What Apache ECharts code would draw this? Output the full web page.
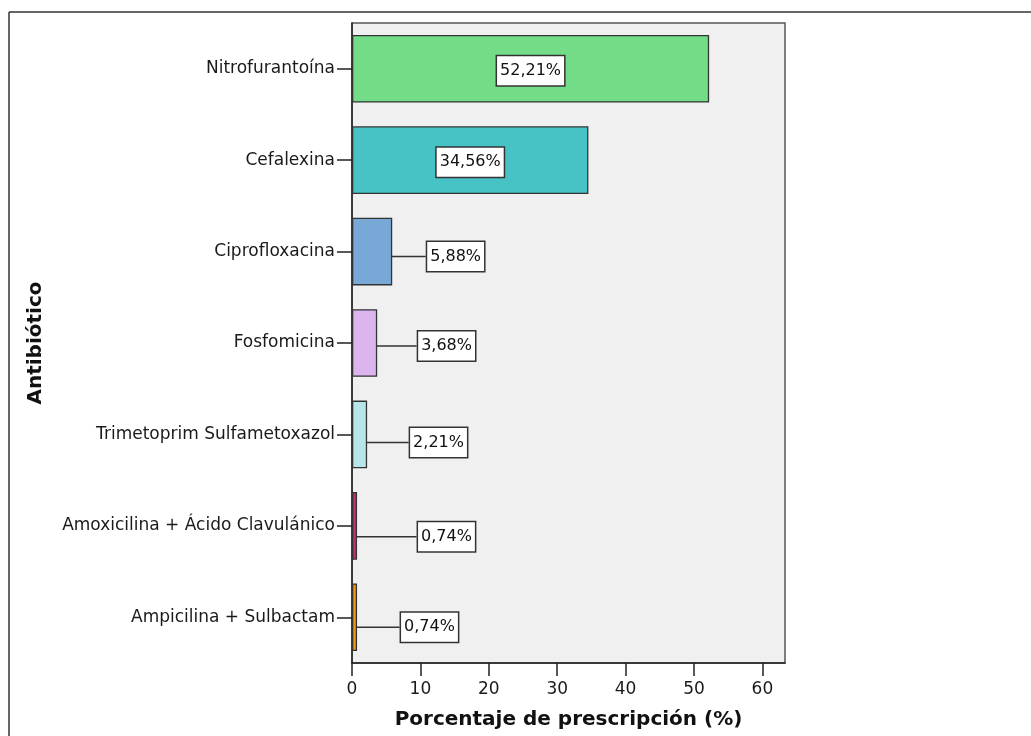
<!DOCTYPE html>
<html>
<head>
<meta charset="utf-8">
<title>Antibiótico</title>
<script src="https://cdn.jsdelivr.net/npm/echarts@6/dist/echarts.min.js"></script>
<style>
  html, body { margin: 0; padding: 0; background: #ffffff; }
  #chart { width: 1031px; height: 736px; }
</style>
</head>
<body>
<div id="chart"></div>
<script>
// Antibiotics, top to bottom, and their share of prescriptions (%)
const antibioticos = [
  'Nitrofurantoína',
  'Cefalexina',
  'Ciprofloxacina',
  'Fosfomicina',
  'Trimetoprim Sulfametoxazol',
  'Amoxicilina + Ácido Clavulánico',
  'Ampicilina + Sulbactam'
];
const porcentajes = [52.21, 34.56, 5.88, 3.68, 2.21, 0.74, 0.74];
const xTicks = [0, 10, 20, 30, 40, 50, 60];

// Bar fill per antibiotic
const barColors = ['#72dc86', '#47c3c6', '#78a8d6', '#dcb5ef', '#b7e6e8', '#c0306c', '#f3950e'];
// Labels of wide bars sit inside; the rest are pulled to the right with a leader line
const insideLabel = [true, true, false, false, false, false, false];
const labelShift = [[0, 2], [0, 2], [35, 5], [41, 3], [43, 8], [61, 11], [44, 10]];

const FONT = 'DejaVu Sans';
const fmt = v => v.toFixed(2).replace('.', ',') + '%';

const chart = echarts.init(document.getElementById('chart'), null, { renderer: 'canvas' });

chart.setOption({
  backgroundColor: '#ffffff',
  animation: false,
  graphic: [
    { type: 'line', shape: { x1: 9, y1: 12, x2: 1031, y2: 12 }, style: { stroke: '#333', lineWidth: 1.5 } },
    { type: 'line', shape: { x1: 9, y1: 12, x2: 9, y2: 736 }, style: { stroke: '#333', lineWidth: 1.5 } }
  ],
  grid: {
    left: 352, right: 246, top: 23, bottom: 73,
    show: true, backgroundColor: '#f0f0f0', borderColor: '#555', borderWidth: 1.5
  },
  xAxis: {
    type: 'value',
    min: 0, max: 63.3, interval: 10,
    name: 'Porcentaje de prescripción (%)',
    nameLocation: 'middle', nameGap: 47,
    nameTextStyle: { fontFamily: FONT, fontWeight: 'bold', fontSize: 20, color: '#111' },
    axisLine: { show: true, lineStyle: { color: '#222', width: 1.5 } },
    axisTick: { show: true, length: 13, customValues: xTicks, lineStyle: { color: '#222', width: 1.5 } },
    axisLabel: { customValues: xTicks, margin: 18, fontFamily: FONT, fontSize: 17, color: '#1a1a1a' },
    splitLine: { show: false }
  },
  yAxis: {
    type: 'category',
    inverse: true,
    data: antibioticos,
    name: 'Antibiótico',
    nameLocation: 'middle', nameGap: 306, nameRotate: 90,
    nameTextStyle: { fontFamily: FONT, fontWeight: 'bold', fontSize: 20, color: '#111' },
    axisLine: { show: true, lineStyle: { color: '#222', width: 1.5 } },
    axisTick: { show: true, length: 15, alignWithLabel: true, lineStyle: { color: '#222', width: 1.5 } },
    axisLabel: { margin: 17, fontFamily: FONT, fontSize: 17, color: '#1a1a1a', padding: [3, 0, 0, 0] },
    splitLine: { show: false }
  },
  series: [{
    type: 'bar',
    barCategoryGap: '26%',
    data: porcentajes.map((v, i) => ({
      value: v,
      itemStyle: { color: barColors[i] },
      label: { position: insideLabel[i] ? 'inside' : 'right', distance: 0 },
      labelLine: { show: !insideLabel[i] }
    })),
    itemStyle: { borderColor: '#333', borderWidth: 1.3 },
    label: {
      show: true,
      formatter: p => fmt(p.value),
      fontFamily: FONT, fontSize: 16, color: '#111',
      backgroundColor: '#ffffff', borderColor: '#333', borderWidth: 1.5,
      padding: [7, 3, 6, 3]
    },
    labelLine: { show: true, lineStyle: { color: '#333', width: 1.5 } },
    labelLayout: p => {
      const s = labelShift[p.dataIndex];
      return { dx: s[0], dy: s[1] };
    }
  }]
});
</script>
</body>
</html>
